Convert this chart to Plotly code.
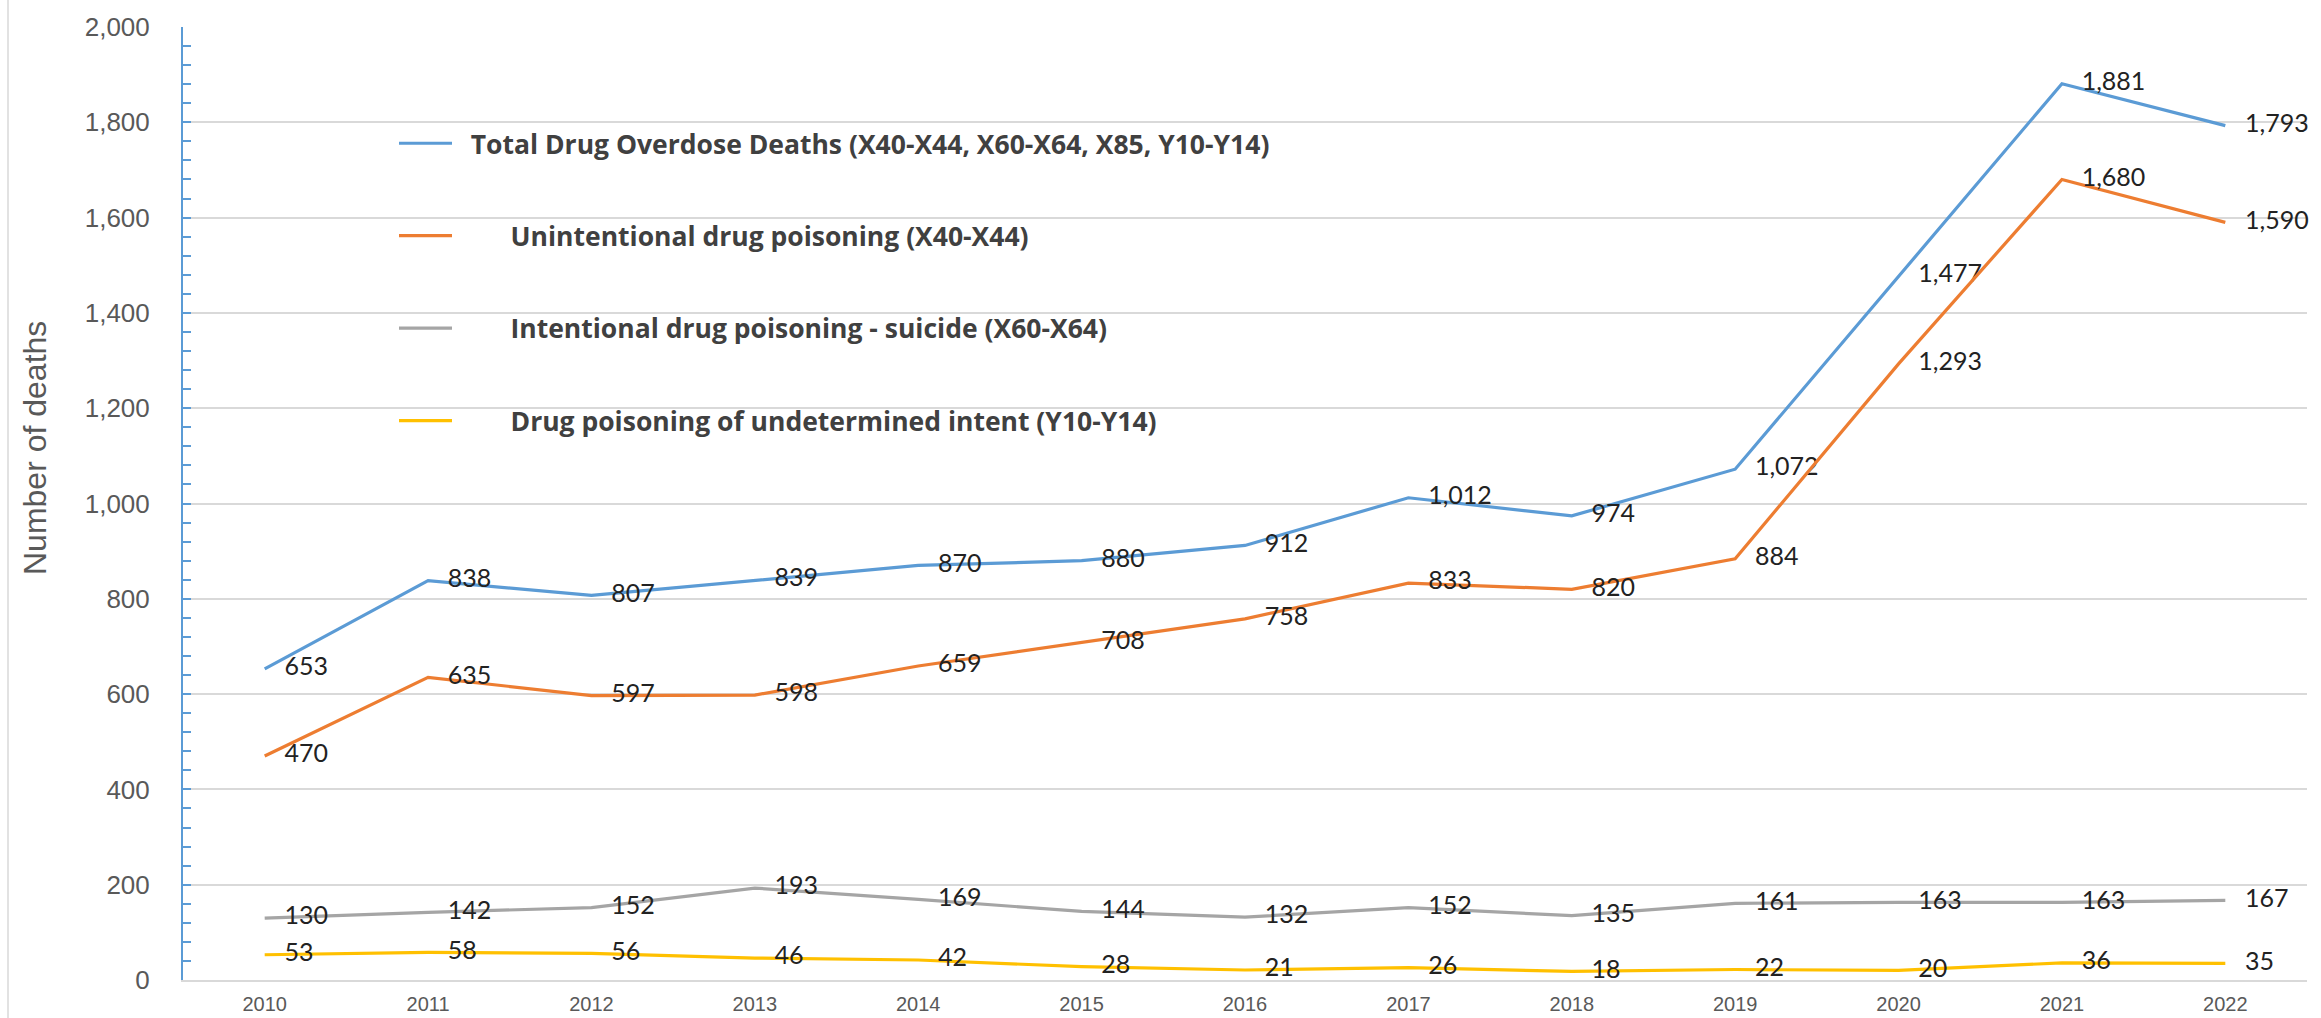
import plotly.graph_objects as go

# Annual drug poisoning deaths by intent, 2010-2022
years = [2010, 2011, 2012, 2013, 2014, 2015, 2016, 2017, 2018, 2019, 2020, 2021, 2022]
year_labels = [str(y) for y in years]

total_deaths = [653, 838, 807, 839, 870, 880, 912, 1012, 974, 1072, 1477, 1881, 1793]
unintentional = [470, 635, 597, 598, 659, 708, 758, 833, 820, 884, 1293, 1680, 1590]
suicide = [130, 142, 152, 193, 169, 144, 132, 152, 135, 161, 163, 163, 167]
undetermined = [53, 58, 56, 46, 42, 28, 21, 26, 18, 22, 20, 36, 35]

y_ticks = [0, 200, 400, 600, 800, 1000, 1200, 1400, 1600, 1800, 2000]

LEAD = "\u00a0\u00a0"
INDENT = LEAD + "\u2002\u2002\u2002"
series = [
    (LEAD + "Total Drug Overdose Deaths (X40-X44, X60-X64, X85, Y10-Y14)", total_deaths, "#5B9BD5"),
    (INDENT + "Unintentional drug poisoning (X40-X44)", unintentional, "#ED7D31"),
    (INDENT + "Intentional drug poisoning - suicide (X60-X64)", suicide, "#A5A5A5"),
    (INDENT + "Drug poisoning of undetermined intent (Y10-Y14)", undetermined, "#FFC000"),
]

W, H = 2321, 1018
M_L, M_R, M_T, M_B = 183, 14, 27, 38
plot_w = W - M_L - M_R
plot_h = H - M_T - M_B

fig = go.Figure()
for i, (name, vals, color) in enumerate(series):
    fig.add_trace(go.Scatter(
        x=years,
        y=vals,
        name=name,
        legendgroup=f"g{i}",
        mode="lines",
        line=dict(color=color, width=3.2),
        hoverinfo="x+y+name",
    ))
    # value labels to the right of each point; the invisible markers
    # only set how far the labels sit from the line
    fig.add_trace(go.Scatter(
        x=years,
        y=vals,
        legendgroup=f"g{i}",
        showlegend=False,
        mode="markers+text",
        marker=dict(size=30, opacity=0, color=color),
        texttemplate="%{y:,}",
        textposition="middle right",
        textfont=dict(family="Lato, sans-serif", size=25, color="#222222"),
        cliponaxis=False,
        hoverinfo="skip",
    ))

def px_to_paper_x(px):
    return (px - M_L) / plot_w

def px_to_paper_y(py):
    return (H - M_B - py) / plot_h

fig.update_layout(
    width=W,
    height=H,
    margin=dict(l=M_L, r=M_R, t=M_T, b=M_B, pad=0),
    paper_bgcolor="white",
    plot_bgcolor="white",
    showlegend=True,
    legend=dict(
        x=px_to_paper_x(394),
        y=px_to_paper_y(119.5),
        xanchor="left",
        yanchor="top",
        xref="paper",
        yref="paper",
        bgcolor="rgba(0,0,0,0)",
        borderwidth=0,
        traceorder="grouped",
        tracegroupgap=55,
        itemwidth=53,
        font=dict(family="Open Sans, sans-serif", size=26.5, color="#404040", weight="bold"),
    ),
    xaxis=dict(
        range=[2009.5, 2022.5],
        tickmode="array",
        tickvals=years,
        ticktext=year_labels,
        showgrid=False,
        zeroline=False,
        showline=True,
        linecolor="#D9D9D9",
        linewidth=2,
        ticks="",
        ticklabelstandoff=5,
        automargin=False,
        tickfont=dict(family="Liberation Sans, Arial, sans-serif", size=20, color="#595959"),
    ),
    yaxis=dict(
        range=[0, 2000],
        tickmode="array",
        tickvals=y_ticks,
        tickformat=",",
        showgrid=True,
        gridcolor="#D9D9D9",
        gridwidth=1.5,
        zeroline=False,
        showline=True,
        linecolor="#5B9BD5",
        linewidth=2,
        ticks="inside",
        ticklen=8,
        tickwidth=2,
        tickcolor="#5B9BD5",
        minor=dict(dtick=40, ticks="inside", ticklen=8, tickwidth=2,
                   tickcolor="#5B9BD5", showgrid=False),
        ticklabelstandoff=26,
        automargin=False,
        tickfont=dict(family="Liberation Sans, Arial, sans-serif", size=26, color="#595959"),
    ),
    annotations=[
        dict(
            text="Number of deaths",
            xref="paper", yref="paper",
            x=px_to_paper_x(35), y=px_to_paper_y(448),
            xanchor="center", yanchor="middle",
            textangle=-90,
            showarrow=False,
            font=dict(family="Liberation Sans, Arial, sans-serif", size=32, color="#595959"),
        ),
    ],
    shapes=[
        dict(type="line", xref="paper", yref="paper",
             x0=px_to_paper_x(8), x1=px_to_paper_x(8),
             y0=px_to_paper_y(0), y1=px_to_paper_y(H),
             line=dict(color="#D9D9D9", width=1.5)),
    ],
)

fig.write_html("out.html")
